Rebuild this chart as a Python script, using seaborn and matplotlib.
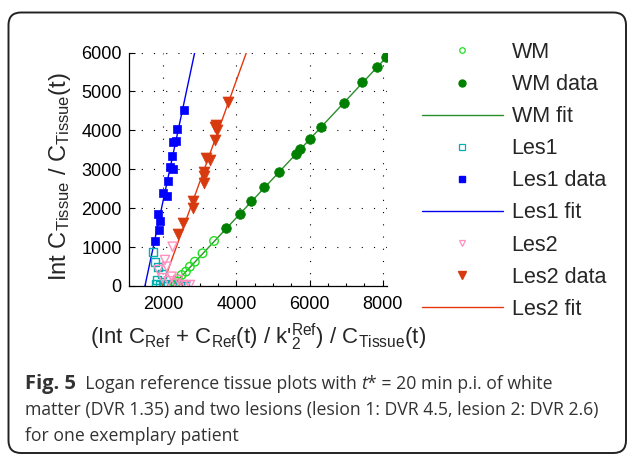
import numpy as np
import pandas as pd
import matplotlib
matplotlib.use("Agg")
import matplotlib.pyplot as plt
import seaborn as sns
from matplotlib.lines import Line2D
from matplotlib.patches import FancyBboxPatch

# ---- Logan plot values: x = (Int C_Ref + C_Ref/k2') / C_Tissue, y = Int C_Tissue / C_Tissue
# frames before t* (open markers)
wm_early_x = [2256, 2300, 2319, 2380, 2409, 2501, 2619, 2728, 2864, 3074, 3390]
wm_early_y = [0, 30, 69, 110, 172, 283, 368, 496, 625, 841, 1157]
les1_early_x = [1728, 1774, 1864, 1956, 1820, 1800, 1900, 2000, 2100, 2250, 2455, 2591]
les1_early_y = [882, 625, 496, 308, 160, 60, 30, 0, 60, 20, 26, 0]
les2_early_x = [2256, 2046, 2093, 1864, 2229, 2409, 2545, 2728, 2150, 2350, 2620, 1980]
les2_early_y = [1010, 668, 496, 411, 239, 154, 26, 26, 120, 60, 0, 200]

# frames after t* (filled markers)
wm_x = [3727, 4091, 4391, 4755, 5164, 5618, 5745, 6018, 6300, 6936, 7445, 7836, 8091]
wm_y = [1482, 1859, 2177, 2536, 2931, 3385, 3522, 3787, 4087, 4704, 5236, 5638, 5878]
les1_x = [1782, 1873, 1909, 1864, 2091, 2000, 2127, 2264, 2182, 2236, 2255, 2345, 2364, 2573]
les1_y = [1165, 1448, 1680, 1851, 2314, 2391, 2691, 3016, 3059, 3350, 3702, 3727, 4027, 4524]
les2_x = [2400, 2545, 2800, 2818, 3109, 3118, 3109, 3273, 3182, 3427, 3473, 3409, 3455, 3773]
les2_y = [1337, 1628, 1997, 2194, 2639, 2836, 2939, 3239, 3299, 3753, 4010, 4097, 4139, 4739]

# linear fits (slope, intercept)
wm_fit = (1.005, -2265.0)
les1_fit = (4.41, -6615.0)
les2_fit = (2.607, -5144.0)

x_ticks = [2000, 4000, 6000, 8000]
y_ticks = [0, 1000, 2000, 3000, 4000, 5000, 6000]

legend_labels = ["WM", "WM data", "WM fit", "Les1", "Les1 data", "Les1 fit",
                 "Les2", "Les2 data", "Les2 fit"]

c_wm_open, c_wm, c_wm_fit = "#22dd22", "#008000", "#2a8f2a"
c_l1_open, c_l1, c_l1_fit = "#00b0b0", "#0000ff", "#0000ee"
c_l2_open, c_l2, c_l2_fit = "#ff90c0", "#d83a10", "#e6360e"

sns.set_style("white")
plt.rcParams["font.family"] = ["Liberation Sans", "DejaVu Sans"]
plt.rcParams["mathtext.fontset"] = "custom"
plt.rcParams["mathtext.rm"] = "Liberation Sans"
plt.rcParams["mathtext.it"] = "Liberation Sans:italic"
plt.rcParams["mathtext.bf"] = "Liberation Sans:bold"

W, H = 627, 457
fig = plt.figure(figsize=(W / 100, H / 100), dpi=100)

def fx(px):
    return px / W

def fy(py):
    return 1 - py / H

ax_l, ax_r, ax_b, ax_t = 128.5, 386.7, 286.0, 52.5
ax = fig.add_axes([fx(ax_l), fy(ax_b), fx(ax_r - ax_l), (ax_b - ax_t) / H])
ax.set_facecolor("white")

xs = np.linspace(1050, 8110, 300)

def open_pts(x, y, marker, color, s):
    sns.scatterplot(x=x, y=y, ax=ax, marker=marker, s=s, facecolor="none",
                    edgecolor=color, linewidth=1.0, zorder=3)

def filled_pts(x, y, marker, color, s):
    sns.scatterplot(x=x, y=y, ax=ax, marker=marker, s=s, color=color,
                    edgecolor=color, linewidth=0.5, zorder=3)

def fit_line(fit, color):
    df = pd.DataFrame({"x": xs, "y": fit[0] * xs + fit[1]})
    sns.lineplot(data=df, x="x", y="y", ax=ax, color=color, lw=1.0, zorder=2)

open_pts(wm_early_x, wm_early_y, "o", c_wm_open, 38)
filled_pts(wm_x, wm_y, "o", c_wm, 48)
fit_line(wm_fit, c_wm_fit)
open_pts(les1_early_x, les1_early_y, "s", c_l1_open, 34)
filled_pts(les1_x, les1_y, "s", c_l1, 40)
fit_line(les1_fit, c_l1_fit)
open_pts(les2_early_x, les2_early_y, "v", c_l2_open, 44)
filled_pts(les2_x, les2_y, "v", c_l2, 62)
fit_line(les2_fit, c_l2_fit)

ax.set_xlim(1050, 8110)
ax.set_ylim(0, 6000)
ax.set_xticks(x_ticks)
ax.set_yticks(y_ticks)
ax.set_xticks(np.arange(1500, 8100, 500), minor=True)
ax.tick_params(which="both", direction="in", length=4, width=0.8, colors="black",
               labelsize=13, bottom=True, left=True, top=False, right=False)
ax.tick_params(which="minor", length=2.5)
ax.tick_params(axis="x", pad=7.5)
ax.tick_params(axis="y", pad=5)
for side in ("top", "right"):
    ax.spines[side].set_visible(False)
for side in ("left", "bottom"):
    ax.spines[side].set_color("black")
    ax.spines[side].set_linewidth(0.9)
ax.grid(True, which="major", color="black", linestyle=(0, (1, 10)), linewidth=0.8)
ax.set_axisbelow(True)

ax.set_xlabel(r"(Int C$_{\mathrm{Ref}}$ + C$_{\mathrm{Ref}}$(t) / k'$^{\mathrm{Ref}}_{2}$) / C$_{\mathrm{Tissue}}$(t)",
              fontsize=16, labelpad=6)
ax.set_ylabel(r"Int C$_{\mathrm{Tissue}}$ / C$_{\mathrm{Tissue}}$(t)", fontsize=17, labelpad=6)
ax.yaxis.label.set_y(0.47)

handles = [
    Line2D([], [], ls="none", marker="o", ms=4, mfc="none", mec=c_wm_open, mew=0.9),
    Line2D([], [], ls="none", marker="o", ms=5, mfc=c_wm, mec=c_wm),
    Line2D([], [], color=c_wm_fit, lw=1.0),
    Line2D([], [], ls="none", marker="s", ms=4, mfc="none", mec=c_l1_open, mew=0.9),
    Line2D([], [], ls="none", marker="s", ms=4.5, mfc=c_l1, mec=c_l1),
    Line2D([], [], color=c_l1_fit, lw=1.0),
    Line2D([], [], ls="none", marker="v", ms=4.5, mfc="none", mec=c_l2_open, mew=0.9),
    Line2D([], [], ls="none", marker="v", ms=5.5, mfc=c_l2, mec=c_l2),
    Line2D([], [], color=c_l2_fit, lw=1.0),
]
fig.legend(handles, legend_labels, loc="upper left",
           bbox_to_anchor=(fx(421.5), fy(42)), bbox_transform=fig.transFigure,
           frameon=False, fontsize=15.5, handlelength=3.8, handletextpad=0.39,
           labelspacing=0.515, borderpad=0, borderaxespad=0)

# rounded frame around figure and caption
frame = FancyBboxPatch((fx(8.5), fy(453)), fx(626 - 8.5), (453 - 12.5) / H,
                       boxstyle="round,pad=0,rounding_size=0.02",
                       transform=fig.transFigure, fill=False,
                       edgecolor="#222222", linewidth=1.4, mutation_aspect=W / H)
fig.patches.append(frame)

# caption text
cap_font = ["Open Sans", "DejaVu Sans"]
cap_size = 12.7
cap_color = "#333333"
renderer = fig.canvas.get_renderer()

def caption_line(pieces, x_px, y_px):
    x = x_px
    for text, weight, style, size in pieces:
        t = fig.text(fx(x), fy(y_px), text, fontsize=size, family=cap_font,
                     weight=weight, style=style, color=cap_color, va="center", ha="left")
        bb = t.get_window_extent(renderer)
        x += bb.width

caption_line([("Fig. 5", "bold", "normal", 14.5),
              ("  Logan reference tissue plots with ", "normal", "normal", cap_size),
              ("t", "normal", "italic", cap_size),
              ("* = 20 min p.i. of white", "normal", "normal", cap_size)], 25, 384)
caption_line([("matter (DVR 1.35) and two lesions (lesion 1: DVR 4.5, lesion 2: DVR 2.6)",
               "normal", "normal", cap_size)], 25, 410)
caption_line([("for one exemplary patient", "normal", "normal", cap_size)], 25, 436)

fig.savefig("out.png", dpi=100, facecolor="white")
